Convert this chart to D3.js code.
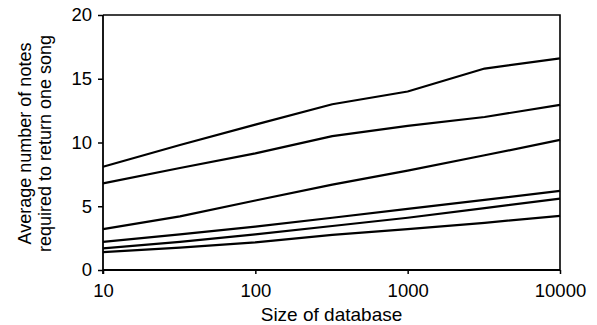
<!DOCTYPE html>
<html>
<head>
<meta charset="utf-8">
<script src="https://cdn.jsdelivr.net/npm/d3@7"></script>
<style>
  body { margin: 0; background: #fff; }
  text { font-family: "Liberation Sans", Arial, sans-serif; fill: #000; }
</style>
</head>
<body>
<div id="chart"></div>
<script>
// database sizes (x) and average notes needed (one array per curve)
const sizes = [10, 32, 100, 320, 1000, 3200, 10000];
const line1 = [8.1, 9.8, 11.4, 13.0, 14.0, 15.8, 16.6];
const line2 = [6.8, 8.0, 9.15, 10.5, 11.3, 12.0, 12.95];
const line3 = [3.2, 4.2, 5.45, 6.7, 7.8, 9.0, 10.2];
const line4 = [2.2, 2.8, 3.4, 4.1, 4.8, 5.5, 6.2];
const line5 = [1.7, 2.2, 2.8, 3.45, 4.1, 4.85, 5.6];
const line6 = [1.4, 1.75, 2.17, 2.75, 3.2, 3.7, 4.25];
const series = [line1, line2, line3, line4, line5, line6];

const xTicks = [10, 100, 1000, 10000];
const yTicks = [0, 5, 10, 15, 20];

const W = 597, H = 325;
const margin = {top: 15, right: 37, bottom: 55, left: 103};

const svg = d3.select("#chart").append("svg")
  .attr("width", W)
  .attr("height", H);

const x = d3.scaleLog().domain([10, 10000]).range([margin.left, W - margin.right]);
const y = d3.scaleLinear().domain([0, 20]).range([H - margin.bottom, margin.top]);

// frame (top + right)
svg.append("path")
  .attr("d", "M" + x(10) + "," + y(20) + "H" + x(10000) + "V" + y(0))
  .attr("fill", "none")
  .attr("stroke", "#000")
  .attr("stroke-width", 1.6);

// x axis
const xAxis = svg.append("g")
  .attr("transform", "translate(0," + y(0) + ")")
  .call(d3.axisBottom(x).tickValues(xTicks).tickFormat(d3.format("d")).tickSize(4).tickPadding(10));

// y axis
const yAxis = svg.append("g")
  .attr("transform", "translate(" + x(10) + ",0)")
  .call(d3.axisLeft(y).tickValues(yTicks).tickSize(5).tickPadding(6));

[xAxis, yAxis].forEach(a => {
  a.select(".domain").attr("stroke", "#000").attr("stroke-width", 1.8);
  a.selectAll(".tick line").attr("stroke", "#000").attr("stroke-width", 1.5);
  a.selectAll(".tick text").style("font-size", "18.5px").attr("fill", "#000");
});
// remove outer tick caps of domain path
xAxis.select(".domain").attr("d", "M" + x(10) + ",0H" + x(10000));
yAxis.select(".domain").attr("d", "M0," + (y(0) + 4) + "V" + y(20));

// lines
const line = d3.line()
  .x((d, i) => x(sizes[i]))
  .y(d => y(d));

svg.append("g").selectAll("path")
  .data(series)
  .join("path")
  .attr("d", line)
  .attr("fill", "none")
  .attr("stroke", "#000")
  .attr("stroke-width", 2.2)
  .attr("stroke-linejoin", "round");

// axis titles
svg.append("text")
  .attr("x", (x(10) + x(10000)) / 2)
  .attr("y", 321)
  .attr("text-anchor", "middle")
  .style("font-size", "19px")
  .text("Size of database");

const cy = (y(0) + y(20)) / 2 + 1;
svg.append("text")
  .attr("transform", "translate(31," + cy + ") rotate(-90)")
  .attr("text-anchor", "middle")
  .style("font-size", "18px")
  .text("Average number of notes");
svg.append("text")
  .attr("transform", "translate(51," + cy + ") rotate(-90)")
  .attr("text-anchor", "middle")
  .style("font-size", "18px")
  .text("required to return one song");
</script>
</body>
</html>
